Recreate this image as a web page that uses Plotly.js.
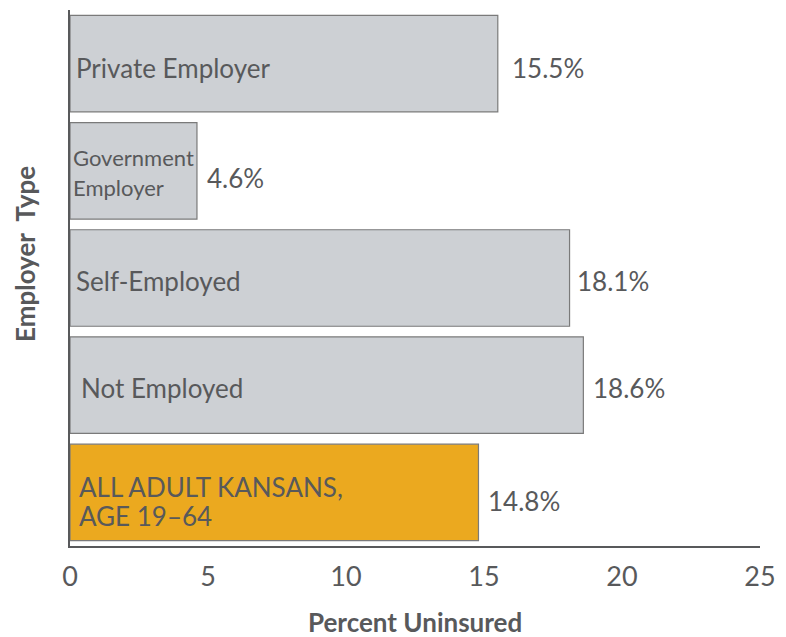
<!DOCTYPE html>
<html>
<head>
<meta charset="utf-8">
<script src="https://cdn.plot.ly/plotly-3.0.1.min.js"></script>
<style>html,body{margin:0;padding:0;background:#fff;}#chart{width:786px;height:637px;}</style>
</head>
<body>
<div id="chart"></div>
<script>
const categories = ["Private Employer", "Government Employer", "Self-Employed", "Not Employed", "ALL ADULT KANSANS, AGE 19–64"];
const barLabels = ["Private Employer", "Government<br>Employer", "Self-Employed", "Not Employed", "ALL ADULT KANSANS,<br>AGE 19–64"];
const values = [15.5, 4.6, 18.1, 18.6, 14.8];
const valueLabels = ["15.5%", "4.6%", "18.1%", "18.6%", "14.8%"];
const barColors = ["#cdd0d4", "#cdd0d4", "#cdd0d4", "#cdd0d4", "#eba91f"];
const xTicks = [0, 5, 10, 15, 20, 25];

const textColor = "#58595b";
const font = "Lato, 'Open Sans', sans-serif";

// per-label styling offsets (pixels)
const labelX = [4, 1, 4, 9, 7];
const labelY = [-4, -2, -3, -3, -9];
const labelSize = [26, 22, 26, 26, 26];
const lineGap = [0, 30, 0, 0, 29];
const valueX = [12, 8, 5, 8, 8];
const valueY = [-4, -7, -3, -3, -9];

const trace = {
  type: "bar",
  orientation: "h",
  y: categories,
  x: values,
  marker: { color: barColors, line: { color: "#7a7a7a", width: 1.2 } },
  width: 0.9,
  hoverinfo: "none"
};

const annotations = [];
categories.forEach((c, i) => {
  const lines = barLabels[i].split("<br>");
  lines.forEach((ln, k) => {
    const off = (k - (lines.length - 1) / 2) * lineGap[i];
    annotations.push({
      x: 0, y: c, xref: "x", yref: "y",
      text: ln, showarrow: false,
      xanchor: "left", yanchor: "middle", align: "left",
      xshift: labelX[i], yshift: labelY[i] - off,
      font: { family: font, size: labelSize[i], color: textColor }
    });
  });
  annotations.push({
    x: values[i], y: c, xref: "x", yref: "y",
    text: valueLabels[i], showarrow: false,
    xanchor: "left", yanchor: "middle",
    xshift: valueX[i], yshift: valueY[i],
    font: { family: font, size: 26, color: textColor }
  });
});
annotations.push({
  xref: "paper", yref: "paper", x: -0.065, y: 0.545,
  text: "<b>Employer  Type</b>", textangle: -90, showarrow: false,
  xanchor: "center", yanchor: "middle",
  font: { family: font, size: 26, color: textColor }
});
annotations.push({
  xref: "paper", yref: "paper", x: 0.5, y: -0.141,
  text: "<b>Percent Uninsured</b>", showarrow: false,
  xanchor: "center", yanchor: "middle",
  font: { family: font, size: 26, color: textColor }
});

const layout = {
  width: 786, height: 637,
  margin: { l: 70, r: 26, t: 10, b: 91 },
  paper_bgcolor: "#fff", plot_bgcolor: "#fff",
  showlegend: false,
  bargap: 0.1,
  xaxis: {
    range: [0, 25], tickvals: xTicks, ticktext: xTicks.map(String),
    showgrid: false, zeroline: false, showline: true, linecolor: "#58595b", linewidth: 2,
    ticks: "outside", ticklen: 6, tickcolor: "rgba(0,0,0,0)",
    tickfont: { family: font, size: 27, color: textColor },
    fixedrange: true
  },
  yaxis: {
    type: "category", autorange: "reversed",
    showticklabels: false, showgrid: false, zeroline: false,
    showline: true, linecolor: "#58595b", linewidth: 2, ticks: "",
    fixedrange: true
  },
  annotations: annotations
};

Plotly.newPlot("chart", [trace], layout, { displayModeBar: false, staticPlot: true });
</script>
</body>
</html>
